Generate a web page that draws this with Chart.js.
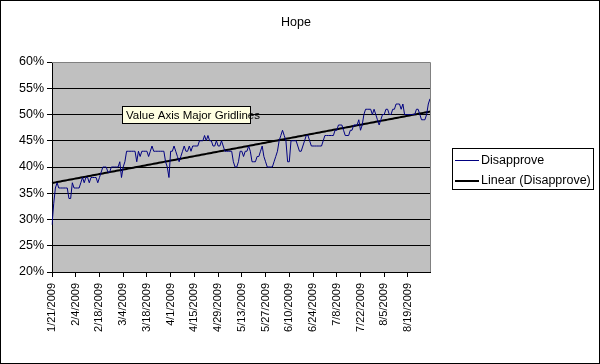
<!DOCTYPE html>
<html><head><meta charset="utf-8">
<script src="https://cdn.jsdelivr.net/npm/chart.js@4/dist/chart.umd.min.js"></script>
<style>html,body{margin:0;padding:0;background:#fff}#wrap{width:600px;height:364px;position:relative}</style>
</head><body><div id="wrap"><canvas id="c" width="600" height="364"></canvas></div>
<script>
const chartTitle = 'Hope';
const seriesNames = ['Disapprove', 'Linear (Disapprove)'];
const annotationText = 'Value Axis Major Gridlines';
const firstDay = '2009-01-21';
const tickLabels = ['1/21/2009','2/4/2009','2/18/2009','3/4/2009','3/18/2009','4/1/2009','4/15/2009','4/29/2009',
  '5/13/2009','5/27/2009','6/10/2009','6/24/2009','7/8/2009','7/22/2009','8/5/2009','8/19/2009'];
const yTicks = [20, 25, 30, 35, 40, 45, 50, 55, 60];
// daily Disapprove (%), 1/21/2009 .. 9/1/2009
const disapprove = [
  29,33,36,37,36,36,36,36,36,36,
  34,34,37,36,36,36,36,37,38,37,
  38,38,37,38,38,38,38,37,38,39,
  40,40,40,39,39,40,40,40,40,40,
  41,38,40,41,43,43,43,43,43,43,
  41,43,42,43,43,43,43,42,43,44,
  43,43,43,43,43,43,43,41,40,38,
  43,43,44,43,42,41,42,43,44,43,
  43,44,43,44,44,44,44,45,45,45,
  46,45,46,45,45,44,44,45,44,44,
  45,44,43,43,43,43,43,41,40,40,
  41,43,43,42,43,43,44,43,41,41,
  41,42,42,43,44,42,41,40,40,40,
  40,41,42,43,45,46,47,46,45,41,
  41,45,45,45,45,44,43,43,44,45,
  46,46,45,44,44,44,44,44,44,44,
  45,46,46,46,46,46,46,47,47,48,
  48,48,47,46,46,46,47,47,48,48,
  48,49,47,48,50,51,51,51,51,50,
  51,50,49,48,49,50,50,51,51,50,
  50,51,51,52,52,52,51,52,50,50,
  50,50,50,50,50,51,51,50,49,49,
  49,50,52,53
];

// category labels: consecutive days
const categories = [];
{
  const d0 = new Date(firstDay + 'T12:00:00');
  for (let i = 0; i < disapprove.length; i++) {
    const d = new Date(d0.getTime() + i * 86400000);
    categories.push((d.getMonth() + 1) + '/' + d.getDate() + '/' + d.getFullYear());
  }
}
// least-squares linear trend of the series
const trend = (() => {
  const n = disapprove.length;
  let sx = 0, sy = 0, sxx = 0, sxy = 0;
  disapprove.forEach((v, i) => { sx += i; sy += v; sxx += i * i; sxy += i * v; });
  const b = (n * sxy - sx * sy) / (n * sxx - sx * sx);
  const a = (sy - b * sx) / n;
  return disapprove.map((_, i) => a + b * i);
})();

const FONT = '"Liberation Sans", Arial, sans-serif';

const deco = {
  id: 'deco',
  beforeDraw(chart) {
    const { ctx, chartArea: a } = chart;
    ctx.save();
    ctx.fillStyle = '#fff';
    ctx.fillRect(0, 0, chart.width, chart.height);
    ctx.fillStyle = '#c0c0c0';
    ctx.fillRect(a.left, a.top, a.right - a.left, a.bottom - a.top);
    ctx.restore();
  },
  afterDraw(chart) {
    const { ctx, chartArea: a } = chart;
    ctx.save();
    // plot border top/right
    ctx.strokeStyle = '#808080';
    ctx.lineWidth = 1;
    ctx.beginPath();
    ctx.moveTo(a.left, a.top + 0.5); ctx.lineTo(a.right + 0.5, a.top + 0.5); ctx.lineTo(a.right + 0.5, a.bottom);
    ctx.stroke();
    // title
    ctx.fillStyle = '#000';
    ctx.font = '12.5px ' + FONT;
    ctx.textAlign = 'center'; ctx.textBaseline = 'middle';
    ctx.fillText(chartTitle, 296, 23);
    // annotation box
    ctx.font = '11.5px ' + FONT;
    ctx.textAlign = 'left';
    const bx = 122, by = 106, bw = 128, bh = 17;
    ctx.fillStyle = '#ffffe1';
    ctx.fillRect(bx, by, bw, bh);
    ctx.strokeStyle = '#000';
    ctx.strokeRect(bx + 0.5, by + 0.5, bw, bh);
    ctx.fillStyle = '#000';
    ctx.fillText(annotationText, bx + 4, by + bh / 2 + 1);
    // legend
    const lx = 452, ly = 148, lw = 141, lh = 41;
    ctx.fillStyle = '#fff';
    ctx.fillRect(lx, ly, lw, lh);
    ctx.strokeStyle = '#000';
    ctx.lineWidth = 1;
    ctx.strokeRect(lx + 0.5, ly + 0.5, lw, lh);
    ctx.font = '12.5px ' + FONT;
    const rows = [
      { y: 160.5, color: '#000080', w: 1 },
      { y: 181, color: '#000', w: 2 }
    ];
    rows.forEach((r, i) => {
      ctx.strokeStyle = r.color; ctx.lineWidth = r.w;
      ctx.beginPath(); ctx.moveTo(455, r.y); ctx.lineTo(479, r.y); ctx.stroke();
      ctx.fillStyle = '#000';
      ctx.fillText(seriesNames[i], 481, r.y);
    });
    // outer border
    ctx.strokeStyle = '#000'; ctx.lineWidth = 1;
    ctx.strokeRect(0.5, 0.5, chart.width - 1, chart.height - 1);
    ctx.restore();
  }
};

new Chart(document.getElementById('c'), {
  type: 'line',
  data: {
    labels: categories,
    datasets: [
      { label: seriesNames[0], data: disapprove, borderColor: '#000080', borderWidth: 1, pointRadius: 0, tension: 0, fill: false },
      { label: seriesNames[1], data: trend, borderColor: '#000', borderWidth: 2, pointRadius: 0, tension: 0, fill: false }
    ]
  },
  options: {
    responsive: false,
    animation: false,
    events: [],
    layout: { padding: { left: 0, top: 62, right: 170, bottom: 0 } },
    plugins: { legend: { display: false }, title: { display: false }, tooltip: { enabled: false } },
    scales: {
      x: {
        type: 'category',
        offset: false,
        border: { color: '#000', width: 1 },
        grid: {
          display: true, drawOnChartArea: false, drawTicks: true, tickLength: 5,
          color: c => tickLabels.includes(categories[c.index]) ? '#000' : 'rgba(0,0,0,0)',
          tickColor: c => tickLabels.includes(categories[c.index]) ? '#000' : 'rgba(0,0,0,0)'
        },
        ticks: {
          autoSkip: false, minRotation: 90, maxRotation: 90, padding: 6,
          color: '#000', font: { family: FONT, size: 11 },
          callback: (v, i) => tickLabels.includes(categories[i]) ? categories[i] : ''
        },
        afterFit: s => { s.height = 92; }
      },
      y: {
        min: 20, max: 60,
        border: { color: '#000', width: 1 },
        grid: { color: '#000', lineWidth: 1, drawTicks: true, tickLength: 5, tickColor: '#000' },
        afterBuildTicks: s => { s.ticks = yTicks.map(v => ({ value: v })); },
        ticks: { color: '#000', padding: 3, font: { family: FONT, size: 12.5 }, callback: v => v + '%' },
        afterFit: s => { s.width = 52; }
      }
    }
  },
  plugins: [deco]
});
</script>
</body></html>
